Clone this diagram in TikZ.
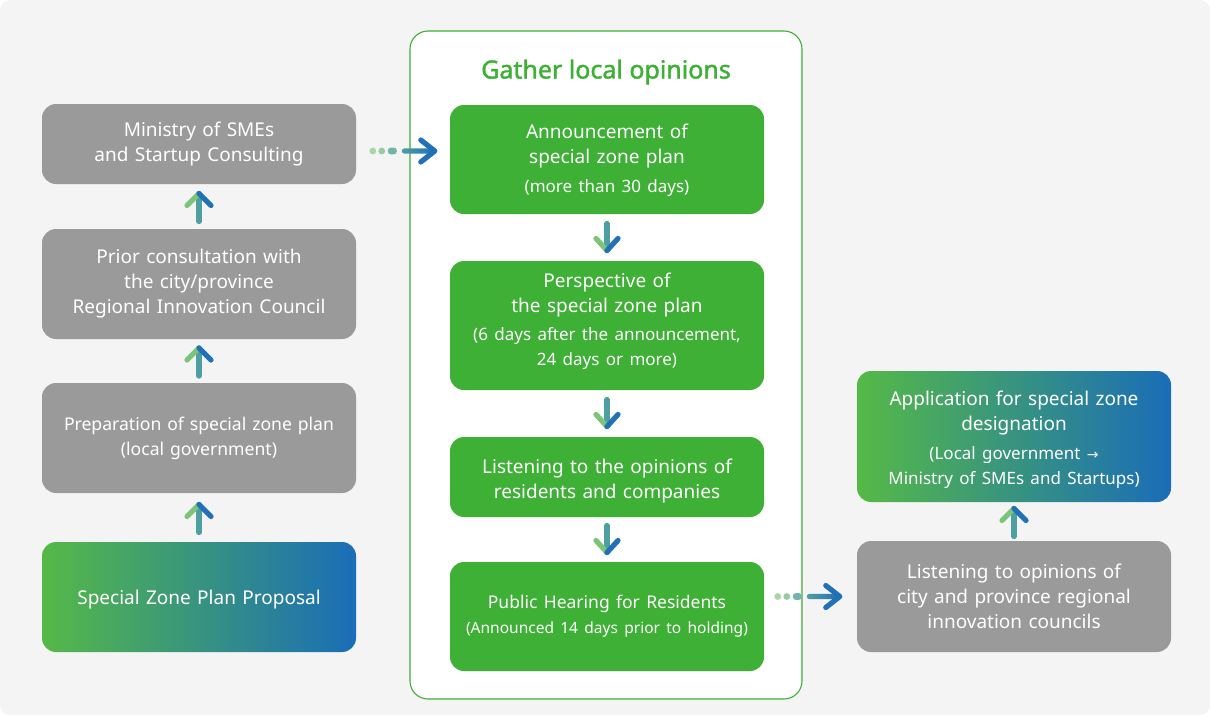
\documentclass[tikz,border=0pt]{standalone}
\usepackage{fontspec}
\setmainfont{Noto Sans}
\newfontfamily\djv{DejaVu Sans}
\newfontfamily\ttlfont{Noto Sans}[FakeBold=1.6]
\usetikzlibrary{calc}
\definecolor{bgc}{HTML}{F4F4F4}
\definecolor{boxgray}{HTML}{9A9A9A}
\definecolor{boxgreen}{HTML}{3DB035}
\definecolor{gl}{HTML}{55B947}
\definecolor{gr}{HTML}{1A6DB8}
\definecolor{arrg}{HTML}{7CC47A}
\definecolor{arrt}{HTML}{4E9FA2}
\definecolor{arrb}{HTML}{2270B5}
\definecolor{dotA}{HTML}{A9D6A2}
\definecolor{dotB}{HTML}{97CCA3}
\definecolor{dashA}{HTML}{72B3AC}
\newcommand\subt[1]{{\fontsize{17}{24}\selectfont #1}}
\newcommand\arrUp[1]{%
  \draw[arrline, arrt] ($(#1)+(0,15)$) -- ($(#1)+(0,-13)$);
  \draw[arrline, arrg] ($(#1)+(-12,-1)$) -- ($(#1)+(0,-13)$);
  \draw[arrline, arrb] ($(#1)+(12,-1)$) -- ($(#1)+(0,-13)$);}
\newcommand\arrDown[1]{%
  \draw[arrline, arrt] ($(#1)+(0,-14)$) -- ($(#1)+(0,13)$);
  \draw[arrline, arrg] ($(#1)+(-11,1)$) -- ($(#1)+(0,13)$);
  \draw[arrline, arrb] ($(#1)+(11,1)$) -- ($(#1)+(0,13)$);}
\newcommand\arrRight[1]{%
  \fill[dotA] ($(#1)+(-62,0)$) circle (3.4);
  \fill[dotB] ($(#1)+(-53,0)$) circle (3.4);
  \fill[dashA, rounded corners=3] ($(#1)+(-47,-3.4)$) rectangle ($(#1)+(-38,3.4)$);
  \shade[left color=arrt, right color=arrb, rounded corners=2.5] ($(#1)+(-33,-2.6)$) rectangle ($(#1)+(-1,2.6)$);
  \draw[arrline, arrb, line join=round] ($(#1)+(-14,-11)$) -- (#1) -- ($(#1)+(-14,11)$);}
\begin{document}
\begin{tikzpicture}[x=1pt, y=-1pt,
  arrline/.style={line width=5.2pt, line cap=round},
  box/.style={rounded corners=14pt, minimum width=314pt, minimum height=#1, text width=310pt,
    align=center, text=white, font=\fontsize{19}{25}\selectfont, inner sep=0pt},
  graybox/.style={box=#1, fill=boxgray},
  greenbox/.style={box=#1, fill=boxgreen},
  gradbox/.style={box=#1, left color=gl, right color=gr},
  grpbox/.style={draw=boxgreen, line width=1.1pt, fill=white, rounded corners=18pt,
    minimum width=392pt, minimum height=668pt, inner sep=0pt},
  title/.style={text=boxgreen, font=\fontsize{25}{28}\ttlfont}]
\useasboundingbox (0,0) rectangle (1210,715);
\fill[bgc, rounded corners=10pt] (0,0) rectangle (1210,715);

% left column
\node[graybox=80pt] (min) at (199,144) {Ministry of SMEs\\and Startup Consulting};
\node[graybox=110pt] (prior) at (199,284) {Prior consultation with\\the city/province\\Regional Innovation Council};
\node[graybox=110pt, font=\fontsize{17.6}{25}\selectfont] (prep) at (199,438) {Preparation of special zone plan\\(local government)};
\node[gradbox=110pt, text depth=0pt] (prop) at (199,597) {Special Zone Plan Proposal};

% middle group
\node[grpbox] (grp) at (606,365) {};
\node[title] (ttl) at (606,72) {Gather local opinions};
\node[greenbox=109pt, text height=16pt] (ann) at (607,159.5) {Announcement of\\special zone plan\\[4pt]\subt{(more than 30 days)}};
\node[greenbox=129pt] (per) at (607,325.5) {Perspective of\\the special zone plan\\[3pt]\subt{(6 days after the announcement,}\\\subt{24 days or more)}\par\vspace{9pt}};
\node[greenbox=80pt, text height=22pt] (lis) at (607,477) {Listening to the opinions of\\residents and companies};
\node[greenbox=109pt] (pub) at (607,616.5) {\fontsize{17.5}{25}\selectfont Public Hearing for Residents\\{\fontsize{15.5}{24}\selectfont (Announced 14 days prior to holding)}};

% right column
\node[gradbox=131pt, text height=21.5pt] (app) at (1014,436.5) {Application for special zone\\designation\\[4pt]\subt{(Local government {\djv\fontsize{14}{24}\selectfont →}}\\\subt{Ministry of SMEs and Startups)}};
\node[graybox=111pt] (lisr) at (1014,596.5) {Listening to opinions of\\city and province regional\\innovation councils};

% arrows
\coordinate (u1) at ($(min.south)!0.5!(prior.north)$);
\coordinate (u2) at ($(prior.south)!0.5!(prep.north)$);
\coordinate (u3) at ($(prep.south)!0.5!(prop.north)$);
\coordinate (u4) at ($(app.south)!0.5!(lisr.north)$);
\coordinate (d1) at ($(ann.south)!0.5!(per.north)$);
\coordinate (d2) at ($(per.south)!0.5!(lis.north)$);
\coordinate (d3) at ($(lis.south)!0.5!(pub.north)$);
\arrUp{u1}\arrUp{u2}\arrUp{u3}\arrUp{u4}
\arrDown{d1}\arrDown{d2}\arrDown{d3}
\coordinate (h1) at ($(ann.west)+(-15,-8.5)$);
\coordinate (h2) at ($(lisr.west)+(-17,0)$);
\arrRight{h1}\arrRight{h2}
\end{tikzpicture}
\end{document}
